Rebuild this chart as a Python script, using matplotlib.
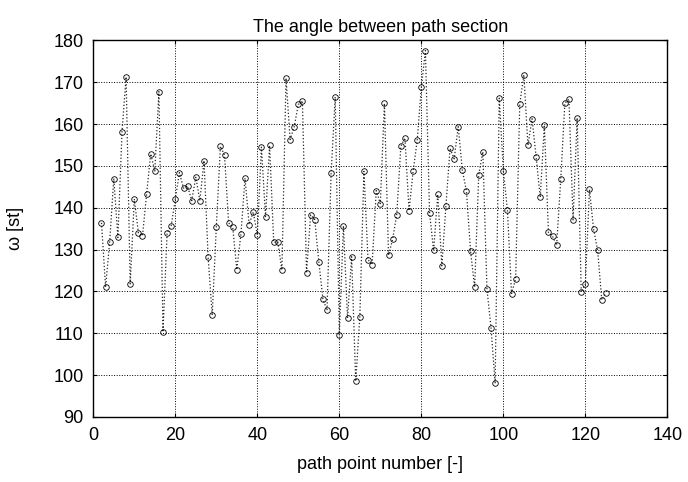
import matplotlib
matplotlib.use('Agg')
import matplotlib.pyplot as plt
import numpy as np

plt.rcParams['font.family'] = ['Liberation Sans', 'DejaVu Sans']

# path point numbers and angles
point_no = np.arange(2, 126)
omega = [
    136.4, 121.0, 131.9, 147.0, 132.9, 158.1, 171.3, 121.8, 142.1, 134.0,
    133.3, 143.3, 152.9, 148.8, 167.8, 110.3, 134.0, 135.7, 142.1, 148.4,
    144.7, 145.2, 141.7, 147.3, 141.7, 151.3, 128.3, 114.3, 135.4, 154.7,
    152.6, 136.4, 135.4, 125.2, 133.7, 147.1, 136.0, 139.0, 133.5, 154.5,
    137.9, 154.9, 131.8, 131.8, 125.1, 171.0, 156.3, 159.4, 164.7, 165.6,
    124.4, 138.3, 137.2, 127.1, 118.2, 115.5, 148.3, 166.5, 109.5, 135.7,
    113.6, 128.3, 98.5, 114.0, 148.7, 127.6, 126.4, 144.1, 141.0, 165.0,
    128.6, 132.5, 138.3, 154.7, 156.7, 139.3, 148.7, 156.2, 168.8, 177.6,
    138.8, 129.8, 143.2, 126.1, 140.5, 154.2, 151.7, 159.4, 149.0, 144.0,
    129.7, 121.0, 147.9, 153.4, 120.6, 111.3, 98.0, 166.2, 148.9, 139.4,
    119.5, 123.0, 164.8, 171.8, 154.9, 161.3, 152.1, 142.5, 159.8, 134.1,
    133.2, 131.1, 146.8, 165.0, 166.0, 137.1, 161.5, 119.8, 121.7, 144.4,
    134.9, 129.8, 118.0, 119.6,
]

xticks = [0, 20, 40, 60, 80, 100, 120, 140]
yticks = [90, 100, 110, 120, 130, 140, 150, 160, 170, 180]

fig = plt.figure(figsize=(6.88, 4.82), dpi=100)
ax = fig.add_axes([0.1356, 0.135, 0.8344, 0.781])

ax.plot(point_no, omega, linestyle=':', color='0.15', linewidth=0.9,
        marker='o', markersize=4, markerfacecolor='none',
        markeredgecolor='black', markeredgewidth=0.6)

ax.set_xlim(0, 140)
ax.set_ylim(90, 180)
ax.set_xticks(xticks)
ax.set_yticks(yticks)
ax.tick_params(direction='in', labelsize=13, length=3, width=0.8,
               top=True, right=True, pad=7)
ax.grid(True, linestyle=':', color='black', linewidth=0.7)
for s in ax.spines.values():
    s.set_linewidth(1.0)

ax.set_title('The angle between path section', fontsize=13, pad=6)
ax.set_xlabel('path point number [-]', fontsize=13, labelpad=9)
ax.set_ylabel('ω [st]', fontsize=13)
ax.yaxis.set_label_coords(-0.12, 0.5)

fig.savefig('out.png', dpi=100)
